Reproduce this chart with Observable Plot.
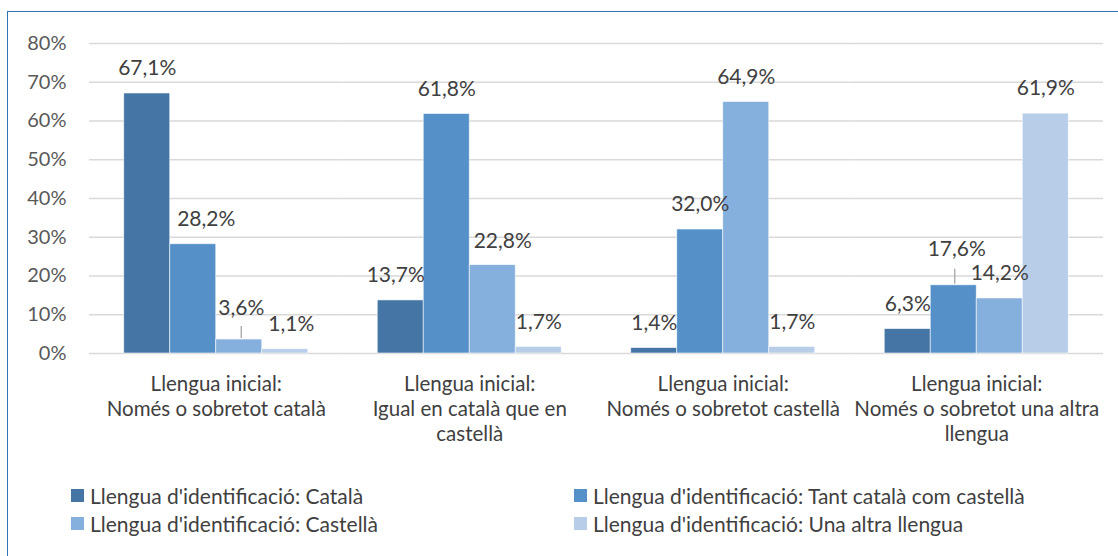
<!DOCTYPE html>
<html>
<head>
<meta charset="utf-8">
<script src="https://cdn.jsdelivr.net/npm/d3@7"></script>
<script src="https://cdn.jsdelivr.net/npm/@observablehq/plot@0.6"></script>
<style>
  html, body { margin: 0; padding: 0; background: #fff; overflow: hidden; width: 1118px; height: 556px; }
  #frame { position: absolute; left: 7px; top: 11px; width: 1200px; height: 700px; border: 1.5px solid #2E75B6; box-sizing: border-box; }
  #chart { position: absolute; left: 0; top: 0; }
  #chart svg { overflow: visible; }
  .legend { position: absolute; font-family: Lato, sans-serif; font-size: 21px; color: #404040; white-space: nowrap; display: flex; align-items: center; }
  .legend .sw { width: 13px; height: 13px; margin-right: 6px; flex: none; }
</style>
</head>
<body>
<div id="frame"></div>
<div id="chart"></div>
<div id="legend"></div>
<script>
// ---- data ----
const groups = [
  "Llengua inicial:\nNomés o sobretot català",
  "Llengua inicial:\nIgual en català que en\ncastellà",
  "Llengua inicial:\nNomés o sobretot castellà",
  "Llengua inicial:\nNomés o sobretot una altra\nllengua"
];
const series = [
  "Llengua d'identificació: Català",
  "Llengua d'identificació: Tant català com castellà",
  "Llengua d'identificació: Castellà",
  "Llengua d'identificació: Una altra llengua"
];
const catala   = [67.1, 13.7, 1.4, 6.3];
const tant     = [28.2, 61.8, 32.0, 17.6];
const castella = [3.6, 22.8, 64.9, 14.2];
const altra    = [1.1, 1.7, 1.7, 61.9];
const yTicks = [0, 10, 20, 30, 40, 50, 60, 70, 80];
const colors = ["#4575A5", "#5591C8", "#85AFDC", "#B7CDE8"];

// ---- build table ----
const valuesBySeries = [catala, tant, castella, altra];
const rows = [];
groups.forEach((g, i) => {
  series.forEach((s, j) => {
    rows.push({group: g, series: s, value: valuesBySeries[j][i], gi: i, si: j});
  });
});

// label nudges (pixel offsets) and leader lines, like the manually moved labels of the original
const nudge = {"0-1": [13, -25], "0-2": [2, -31], "0-3": [6, -25], "1-0": [-5, -25], "1-2": [10, -24], "3-1": [3, -36]};
const leaders = {"0-2": [2, -13], "3-1": [1, -16]};
const fmt = v => v.toFixed(1).replace(".", ",") + "%";

const labelMarks = rows.map(r => {
  const [dx, dy] = nudge[r.gi + "-" + r.si] || [0, -25];
  return Plot.text([r], {fx: "group", x: "series", y: "value", text: d => fmt(d.value),
    dx, dy, fill: "#404040", fontSize: 21});
});
const leaderMarks = rows.filter(r => leaders[r.gi + "-" + r.si]).map(r => {
  const [dx, len] = leaders[r.gi + "-" + r.si];
  return Plot.ruleX([r], {fx: "group", x: "series", y1: "value", y2: "value",
    insetTop: len, insetBottom: 1, dx, stroke: "#A6A6A6", strokeWidth: 1.3});
});

const chart = Plot.plot({
  width: 1118,
  height: 460,
  marginLeft: 89,
  marginRight: 15,
  marginTop: 43,
  marginBottom: 107,
  style: {fontFamily: "Lato, sans-serif", fontSize: "20px", color: "#404040", background: "transparent"},
  fx: {domain: groups, padding: 0, round: false, label: null},
  x: {domain: series, paddingInner: 0, paddingOuter: 0.755, round: false, axis: null},
  y: {domain: [0, 80], label: null},
  color: {domain: series, range: colors},
  marks: [
    Plot.gridY(yTicks, {stroke: "#D9D9D9", strokeOpacity: 1, strokeWidth: 1.3}),
    Plot.axisY(yTicks, {tickFormat: d => d + "%", tickSize: 0, tickPadding: 23, fill: "#595959", fontSize: 20, label: null}),
    Plot.axisFx({anchor: "bottom", tickSize: 0, tickPadding: 20, lineHeight: 1.22, fill: "#404040", fontSize: 20.5, label: null}),
    Plot.barY(rows, {fx: "group", x: "series", y: "value", fill: "series", stroke: "#ffffff", strokeWidth: 0.8, strokeOpacity: 0.7}),
    ...leaderMarks,
    ...labelMarks
  ]
});
document.getElementById("chart").appendChild(chart);

// ---- legend ----
const legendPos = [[71, 483], [574, 483], [71, 511], [574, 511]];
const leg = document.getElementById("legend");
series.forEach((s, j) => {
  const item = document.createElement("div");
  item.className = "legend";
  item.style.left = legendPos[j][0] + "px";
  item.style.top = legendPos[j][1] + "px";
  item.style.height = "24px";
  const sw = document.createElement("span");
  sw.className = "sw";
  sw.style.background = colors[j];
  const tx = document.createElement("span");
  tx.textContent = s;
  item.appendChild(sw);
  item.appendChild(tx);
  leg.appendChild(item);
});
</script>
</body>
</html>
